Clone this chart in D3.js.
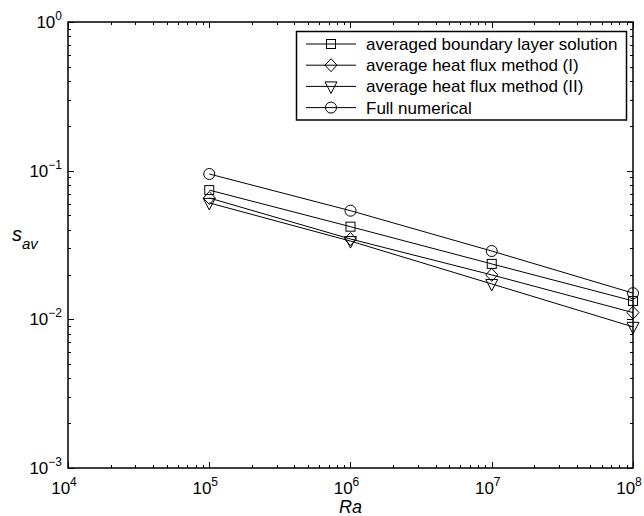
<!DOCTYPE html>
<meta charset="utf-8">
<head>
  <script src="https://d3js.org/d3.v7.min.js"></script>
  <style>
    body { margin: 0; background: #fff; }
    text { font-family: "Liberation Sans", Arial, sans-serif; fill: #000; }
  </style>
</head>
<body>
<div id="chart"></div>
<script>
  // data
  var ra = [1e5, 1e6, 1e7, 1e8];
  var boundaryLayer = [0.074, 0.042, 0.0236, 0.0133];
  var heatFluxI = [0.0655, 0.0347, 0.0199, 0.0111];
  var heatFluxII = [0.0607, 0.0336, 0.0173, 0.0089];
  var fullNumerical = [0.095, 0.0538, 0.0288, 0.0150];
  var seriesNames = ["averaged boundary layer solution", "average heat flux method (I)",
                     "average heat flux method (II)", "Full numerical"];
  var xTicks = [1e4, 1e5, 1e6, 1e7, 1e8];
  var yTicks = [1e-3, 1e-2, 1e-1, 1e0];

  var W = 644, H = 516;
  var margin = {top: 22, right: 11, bottom: 48, left: 68};
  var width = W - margin.left - margin.right,
      height = H - margin.top - margin.bottom;

  var svg = d3.select("#chart").append("svg")
      .attr("width", W).attr("height", H);
  var g = svg.append("g")
      .attr("transform", "translate(" + margin.left + "," + margin.top + ")");

  var x = d3.scaleLog().domain([1e4, 1e8]).range([0, width]);
  var y = d3.scaleLog().domain([1e-3, 1e0]).range([height, 0]);

  // minor + major ticks, pointing inward on all four sides
  function minors(lo, hi) {
    var out = [];
    for (var e = lo; e < hi; e++)
      for (var k = 2; k <= 9; k++) out.push(k * Math.pow(10, e));
    return out;
  }
  var xMinor = minors(4, 8), yMinor = minors(-3, 0);

  var ticks = g.append("g").attr("stroke", "#000").attr("stroke-width", 1);
  xMinor.forEach(function(v) {
    var px = Math.round(x(v)) + 0.5;
    ticks.append("line").attr("x1", px).attr("x2", px).attr("y1", height).attr("y2", height - 3);
    ticks.append("line").attr("x1", px).attr("x2", px).attr("y1", 0).attr("y2", 3);
  });
  xTicks.forEach(function(v) {
    var px = Math.round(x(v)) + 0.5;
    ticks.append("line").attr("x1", px).attr("x2", px).attr("y1", height).attr("y2", height - 6);
    ticks.append("line").attr("x1", px).attr("x2", px).attr("y1", 0).attr("y2", 6);
  });
  yMinor.forEach(function(v) {
    var py = Math.round(y(v)) + 0.5;
    ticks.append("line").attr("x1", 0).attr("x2", 3).attr("y1", py).attr("y2", py);
    ticks.append("line").attr("x1", width).attr("x2", width - 3).attr("y1", py).attr("y2", py);
  });
  yTicks.forEach(function(v) {
    var py = Math.round(y(v)) + 0.5;
    ticks.append("line").attr("x1", 0).attr("x2", 6).attr("y1", py).attr("y2", py);
    ticks.append("line").attr("x1", width).attr("x2", width - 6).attr("y1", py).attr("y2", py);
  });

  // frame
  g.append("rect").attr("x", 0).attr("y", 0).attr("width", width).attr("height", height)
    .attr("fill", "none").attr("stroke", "#000").attr("stroke-width", 1.5);

  // tick labels 10^n
  function powLabel(sel, v, anchor) {
    var e = Math.round(Math.log10(v));
    var t = sel.append("text").attr("text-anchor", anchor).style("font-size", "17px");
    t.append("tspan").text("10");
    t.append("tspan").attr("dy", -8).style("font-size", "12px").text(e < 0 ? "\u2212" + (-e) : e);
    return t;
  }
  xTicks.forEach(function(v) {
    powLabel(g.append("g").attr("transform", "translate(" + (x(v) - 4) + "," + (height + 26) + ")"), v, "middle");
  });
  yTicks.forEach(function(v) {
    powLabel(g.append("g").attr("transform", "translate(-6," + (y(v) + 6) + ")"), v, "end");
  });

  // axis titles
  svg.append("text").attr("x", margin.left + width / 2).attr("y", 513)
    .attr("text-anchor", "middle").style("font-size", "18px").style("font-style", "italic").text("Ra");
  var yl = svg.append("text").attr("x", 12).attr("y", 241).style("font-style", "italic");
  yl.append("tspan").style("font-size", "20px").text("s");
  yl.append("tspan").attr("dy", 8).style("font-size", "15px").text("av");

  // markers
  var sym = {
    square: function(s, px, py) {
      s.append("rect").attr("x", px - 4.5).attr("y", py - 4.5).attr("width", 9).attr("height", 9);
    },
    diamond: function(s, px, py) {
      s.append("path").attr("d", "M" + px + "," + (py - 6.5) + "L" + (px + 6) + "," + py +
        "L" + px + "," + (py + 6.5) + "L" + (px - 6) + "," + py + "Z");
    },
    triangle: function(s, px, py) {
      s.append("path").attr("d", "M" + (px - 6) + "," + (py - 4.5) + "L" + (px + 6) + "," + (py - 4.5) +
        "L" + px + "," + (py + 7) + "Z");
    },
    circle: function(s, px, py) {
      s.append("circle").attr("cx", px).attr("cy", py).attr("r", 5.5);
    }
  };

  var series = [
    {name: seriesNames[0], values: boundaryLayer, marker: "square"},
    {name: seriesNames[1], values: heatFluxI, marker: "diamond"},
    {name: seriesNames[2], values: heatFluxII, marker: "triangle"},
    {name: seriesNames[3], values: fullNumerical, marker: "circle"}
  ];

  var line = d3.line().x(function(d) { return x(d[0]); }).y(function(d) { return y(d[1]); });

  series.forEach(function(s) {
    var pts = ra.map(function(r, i) { return [r, s.values[i]]; });
    g.append("path").datum(pts).attr("d", line)
      .attr("fill", "none").attr("stroke", "#000").attr("stroke-width", 1);
    var mg = g.append("g").attr("fill", "none").attr("stroke", "#000").attr("stroke-width", 1);
    pts.forEach(function(p) { sym[s.marker](mg, x(p[0]), y(p[1])); });
  });

  // legend
  var lg = svg.append("g").attr("transform", "translate(296,31)");
  lg.append("rect").attr("x", 0.5).attr("y", 0.5).attr("width", 330).attr("height", 88.5)
    .attr("fill", "#fff").attr("stroke", "#000").attr("stroke-width", 1.5);
  series.forEach(function(s, i) {
    var cy = 13 + i * 21.2;
    var row = lg.append("g").attr("fill", "none").attr("stroke", "#000").attr("stroke-width", 1);
    row.append("line").attr("x1", 10).attr("x2", 60).attr("y1", cy).attr("y2", cy);
    sym[s.marker](row, 35, cy);
    lg.append("text").attr("x", 70).attr("y", cy + 6).style("font-size", "17px").text(s.name);
  });
</script>
</body>
